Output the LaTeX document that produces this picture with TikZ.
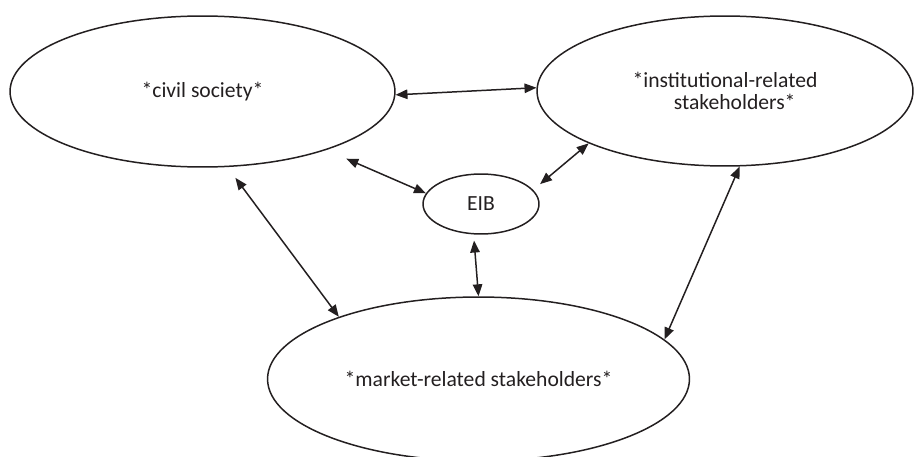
\documentclass[tikz,border=0pt]{standalone}
\usepackage{fontspec}
\setmainfont{Carlito}
\usetikzlibrary{shapes.geometric,arrows.meta}
\definecolor{ink}{HTML}{231F20}
\begin{document}
\begin{tikzpicture}[x=0.02cm,y=-0.02cm,
  oval/.style={ellipse,draw=ink,line width=0.85pt,inner sep=0pt,text=ink,
    font=\fontsize{12.3}{12.8}\selectfont},
  link/.style={draw=ink,line width=0.85pt,{Triangle[length=6.8pt,width=5.4pt]}-{Triangle[length=6.8pt,width=5.4pt]}}]
\useasboundingbox (0,0) rectangle (915,456);
\node[oval,minimum width=7.7cm,minimum height=3.02cm] (civ) at (202.5,91.5) {*civil society*};
\node[oval,minimum width=7.52cm,minimum height=3.0cm,align=left] (inst) at (725,91)
  {*institutional-related\\\hspace*{23.5pt}stakeholders*};
\node[oval,minimum width=2.32cm,minimum height=1.2cm] (eib) at (481,204) {EIB};
\node[oval,minimum width=8.44cm,minimum height=3.28cm] (mkt) at (478.5,379) {*market-related stakeholders*};
\draw[link] (civ.-1) -- (inst.179);
\draw[link] ([shift={(19,9)}]civ.-25.4) -- (eib.169);
\draw[link] ([shift={(10,-3)}]eib.19) -- (inst.201);
\draw[link] ([shift={(4,11)}]civ.-69.4) -- (mkt.156);
\draw[link] ([shift={(-1,6)}]eib.-101) -- (mkt.north);
\draw[link] (inst.-79) -- (mkt.12);
\end{tikzpicture}
\end{document}
